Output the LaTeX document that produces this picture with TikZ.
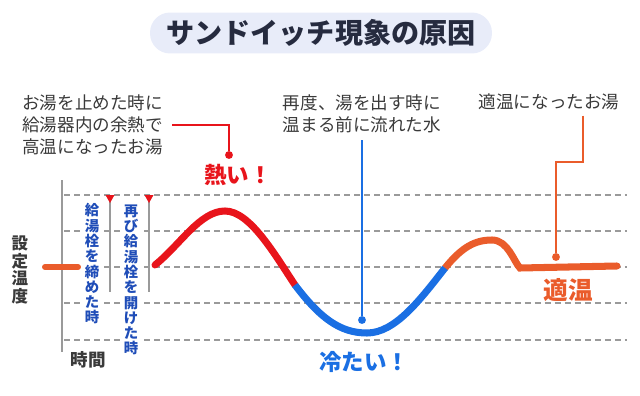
\documentclass[tikz,border=0pt]{standalone}
\usepackage{fontspec}
\setmainfont{Noto Sans CJK JP}
\usetikzlibrary{positioning, calc}

\definecolor{titlebg}{HTML}{E8ECF9}
\definecolor{titleink}{HTML}{262B3F}
\definecolor{noteink}{HTML}{3A3A3A}
\definecolor{gridgray}{HTML}{9A9A9A}
\definecolor{hotred}{HTML}{E8141B}
\definecolor{coldblue}{HTML}{1A6FE3}
\definecolor{warmorange}{HTML}{EA5C2B}
\definecolor{tapblue}{HTML}{1F4DB8}

\begin{document}
\begin{tikzpicture}[
  x=0.02cm, y=-0.02cm,
  title/.style={rectangle, rounded corners=0.4cm, fill=titlebg, minimum width=6.84cm, minimum height=0.82cm, text=titleink, font=\fontsize{16}{18}\selectfont\bfseries},
  note/.style={inner sep=0pt, align=left, text=noteink, font=\fontsize{10}{12.5}\selectfont},
  shout/.style={inner sep=0pt, font=\fontsize{12.8}{15}\selectfont\bfseries},
  vtext/.style={inner sep=1pt, fill=white, align=center, text=tapblue, font=\fontsize{8.2}{8.7}\selectfont\bfseries},
  axislabel/.style={inner sep=0pt, align=center, text=noteink, font=\fontsize{9.4}{9.9}\selectfont\bfseries},
  dot/.style={circle, inner sep=0pt, minimum size=4.5pt},
  grid/.style={gridgray, line width=1.1pt, dash pattern=on 3.4pt off 2.3pt},
  callout/.style={line width=1.1pt},
  curve/.style={line width=4pt}
]
\useasboundingbox (0,0) rectangle (640,396);

% Title
\node[title] (heading) at (321,33) {サンドイッチ現象の原因};

% Grid and axis
\foreach \gy in {195,231,267,303,340}
  \draw[grid] (64,\gy) -- (627,\gy);
\draw[gridgray, line width=1.4pt] (62,180) -- (62,352);

% Tap markers
\coordinate (stopmark) at (110,195);
\coordinate (openmark) at (149,195);
\draw[gridgray, line width=0.9pt] (stopmark) -- (110,292);
\draw[gridgray, line width=0.9pt] (openmark) -- (149,292);
\fill[hotred] (stopmark) ++(-4.5,0) -- ++(9,0) -- ++(-4.5,8) -- cycle;
\fill[hotred] (openmark) ++(-4.5,0) -- ++(9,0) -- ++(-4.5,8) -- cycle;

\node[vtext] (stoptxt) at (92,264) {給\\湯\\栓\\を\\締\\め\\た\\時};
\node[vtext] (opentxt) at (131,280) {再\\び\\給\\湯\\栓\\を\\開\\け\\た\\時};

% Axis labels
\node[axislabel] (setlabel) at (20,270) {設\\定\\温\\度};
\draw[warmorange, line width=3.4pt, line cap=round] (45,267) -- (78,267);
\node[axislabel, font=\fontsize{10}{12}\selectfont\bfseries] (timelabel) at (88,360) {時間};

% Temperature curve
\draw[curve, hotred, line cap=round] (155,265) .. controls (180,245) and (200,211) .. (225,211)
  .. controls (250,211) and (275,255) .. (295,285);
\draw[curve, warmorange, line cap=round] (445,268) .. controls (462,247) and (475,240) .. (492,240)
  .. controls (508,240) and (514,262) .. (520,268) -- (617,266);
\draw[curve, coldblue] (295,285) .. controls (320,318) and (340,333) .. (367,333)
  .. controls (395,333) and (420,300) .. (445,268);

% Notes
\node[note, anchor=west] (hotnote) at (22,125) {お湯を止めた時に\\給湯器内の余熱で\\高温になったお湯};
\node[dot, fill=hotred] (hotdot) at (229,155) {};
\draw[callout, hotred, shorten <=5pt] (hotnote.east) -| (hotdot);
\node[shout, text=hotred] (hot) at (238,175) {熱い！};

\node[note] (coldnote) at (362,114) {再度、湯を出す時に\\温まる前に流れた水};
\node[dot, fill=coldblue] (colddot) at (362,320) {};
\draw[callout, coldblue, shorten <=4pt] (coldnote.south) -- (colddot);
\node[shout, text=coldblue] (cold) at (364,362) {冷たい！};

\node[note] (warmnote) at (549,102) {適温になったお湯};
\coordinate (warmbend) at (583,162);
\node[dot, fill=warmorange] (warmdot) at (556,257) {};
\draw[callout, warmorange, shorten <=3pt] (warmnote.south -| warmbend) -- (warmbend) -| (warmdot);
\node[shout, text=warmorange, font=\fontsize{14}{16}\selectfont\bfseries] (warm) at (568,290) {適温};

\end{tikzpicture}
\end{document}
